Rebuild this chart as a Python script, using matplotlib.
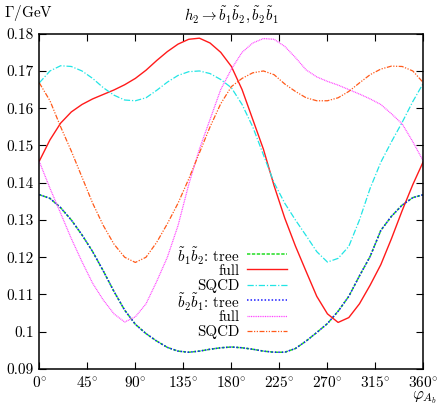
import numpy as np
import matplotlib
matplotlib.use('Agg')
import matplotlib.pyplot as plt

plt.rcParams['font.family'] = ['cmr10', 'DejaVu Serif']
plt.rcParams['mathtext.fontset'] = 'cm'
plt.rcParams['axes.formatter.use_mathtext'] = True
plt.rcParams['font.size'] = 9.5

# %% data (phi in degrees, Gamma in GeV)
phi = np.arange(0, 361, 10)

b1b2_tree = [0.1368, 0.1358, 0.1333, 0.1300, 0.1260, 0.1215, 0.1163, 0.1108, 0.1058, 0.1020,
             0.0995, 0.0975, 0.0958, 0.0948, 0.0945, 0.0948, 0.0953, 0.0957, 0.0959, 0.0957,
             0.0953, 0.0948, 0.0945, 0.0945, 0.0955, 0.0975, 0.0998, 0.1022, 0.1055, 0.1095,
             0.1150, 0.1202, 0.1272, 0.1310, 0.1340, 0.1360, 0.1368]
b1b2_full = [0.1458, 0.1515, 0.1560, 0.1590, 0.1610, 0.1625, 0.1637, 0.1649, 0.1663, 0.1680,
             0.1702, 0.1728, 0.1752, 0.1772, 0.1785, 0.1788, 0.1775, 0.1750, 0.1712, 0.1650,
             0.1570, 0.1490, 0.1392, 0.1305, 0.1230, 0.1162, 0.1095, 0.1048, 0.1025, 0.1038,
             0.1075, 0.1125, 0.1180, 0.1250, 0.1325, 0.1395, 0.1458]
b1b2_sqcd = [0.1668, 0.1700, 0.1714, 0.1712, 0.1700, 0.1680, 0.1655, 0.1635, 0.1622, 0.1620,
             0.1628, 0.1648, 0.1670, 0.1688, 0.1698, 0.1700, 0.1693, 0.1677, 0.1655, 0.1610,
             0.1550, 0.1475, 0.1400, 0.1345, 0.1300, 0.1258, 0.1215, 0.1187, 0.1197, 0.1229,
             0.1300, 0.1385, 0.1455, 0.1510, 0.1562, 0.1618, 0.1668]
b2b1_tree = list(b1b2_tree)
b2b1_full = [0.1457, 0.1385, 0.1318, 0.1250, 0.1188, 0.1130, 0.1085, 0.1048, 0.1026, 0.1040,
             0.1075, 0.1135, 0.1200, 0.1285, 0.1395, 0.1490, 0.1570, 0.1650, 0.1705, 0.1750,
             0.1775, 0.1787, 0.1785, 0.1766, 0.1736, 0.1703, 0.1684, 0.1672, 0.1662, 0.1650,
             0.1638, 0.1625, 0.1610, 0.1585, 0.1558, 0.1510, 0.1457]
b2b1_sqcd = [0.1668, 0.1620, 0.1550, 0.1485, 0.1415, 0.1345, 0.1285, 0.1235, 0.1200, 0.1186,
             0.1200, 0.1240, 0.1290, 0.1345, 0.1410, 0.1480, 0.1550, 0.1612, 0.1658, 0.1680,
             0.1695, 0.1700, 0.1690, 0.1665, 0.1645, 0.1628, 0.1620, 0.1620, 0.1628, 0.1645,
             0.1668, 0.1690, 0.1705, 0.1713, 0.1712, 0.1700, 0.1668]

labels = [r'$\tilde{b}_1\tilde{b}_2$: tree', 'full', 'SQCD',
          r'$\tilde{b}_2\tilde{b}_1$: tree', 'full', 'SQCD']

xticks = [0, 45, 90, 135, 180, 225, 270, 315, 360]
yticks = [0.09, 0.10, 0.11, 0.12, 0.13, 0.14, 0.15, 0.16, 0.17, 0.18]

styles = [dict(color='#22dd22', lw=1.1, dashes=(2.2, 1.0)),
          dict(color='#ff1a1a', lw=1.0),
          dict(color='#22e5e5', lw=0.9, dashes=(5, 1.5, 1, 1.5)),
          dict(color='#1a1aff', lw=1.1, dashes=(1.0, 1.3)),
          dict(color='#ff44ff', lw=0.9, dashes=(0.8, 0.6)),
          dict(color='#ff5a1a', lw=0.9, dashes=(4, 1.2, 1, 1.2, 1, 1.2))]
series = [b1b2_tree, b1b2_full, b1b2_sqcd, b2b1_tree, b2b1_full, b2b1_sqcd]

# %%
fig = plt.figure(figsize=(4.41, 4.09), dpi=100)
ax = fig.add_axes([0.0891, 0.0978, 0.8712, 0.8198])

for vals, st in zip(series, styles):
    ax.plot(phi, vals, **st)

ax.set_xlim(0, 360)
ax.set_ylim(0.09, 0.18)
ax.set_xticks(xticks)
ax.set_xticklabels([r'$%d^{\circ}$' % t for t in xticks])
ax.set_yticks(yticks)
ax.set_yticklabels(['%g' % t for t in yticks])
ax.tick_params(direction='in', top=True, right=True, length=5, width=0.8, pad=4, labelsize=11)
for s in ax.spines.values():
    s.set_linewidth(1.1)

ax.set_title(r'$h_2 \rightarrow \tilde{b}_1\tilde{b}_2, \tilde{b}_2\tilde{b}_1$', fontsize=10.7, pad=10)
fig.text(0.008, 0.968, r'$\Gamma/\mathrm{GeV}$', fontsize=11, va='center', ha='left')
fig.text(0.99, 0.028, r'$\varphi_{A_b}$', fontsize=12, va='center', ha='right')

# gnuplot style key: text right aligned, sample line to the right
y0, dy = 0.343, 0.0459
for i, (lab, st) in enumerate(zip(labels, styles)):
    y = y0 - i * dy
    ax.text(0.521, y, lab, transform=ax.transAxes, ha='right', va='center_baseline', fontsize=10.8)
    ax.plot([0.540, 0.644], [y, y], transform=ax.transAxes, **st)

fig.savefig('out.png', dpi=100)
